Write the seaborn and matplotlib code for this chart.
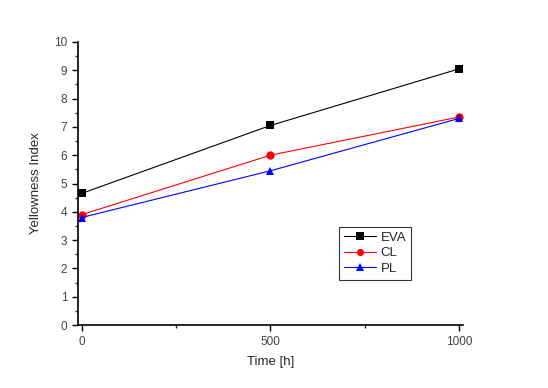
import pandas as pd
import matplotlib.pyplot as plt
import seaborn as sns
from matplotlib.ticker import MultipleLocator

time_h = [0, 500, 1000]
eva = [4.65, 7.05, 9.05]
cl = [3.9, 6.0, 7.35]
pl = [3.8, 5.45, 7.3]

df = pd.DataFrame({
    "time": time_h * 3,
    "yi": eva + cl + pl,
    "sample": ["EVA"] * 3 + ["CL"] * 3 + ["PL"] * 3,
})

sns.set_style("ticks")
plt.rcParams["font.family"] = ["Liberation Sans", "DejaVu Sans"]

fig = plt.figure(figsize=(5.48, 3.88), dpi=100)
ax = fig.add_axes([0.142, 0.162, 0.703, 0.730])

colors = {"EVA": "black", "CL": "red", "PL": "blue"}
markers = {"EVA": "s", "CL": "o", "PL": "^"}
for name in ["EVA", "CL", "PL"]:
    d = df[df["sample"] == name]
    sns.lineplot(data=d, x="time", y="yi", ax=ax, color=colors[name],
                 marker=markers[name], markersize=6, markeredgewidth=0,
                 linewidth=0.8, label=name)

ax.set_xlim(-10, 1010)
ax.set_ylim(0, 10)
ax.xaxis.set_major_locator(MultipleLocator(500))
ax.xaxis.set_minor_locator(MultipleLocator(250))
ax.yaxis.set_major_locator(MultipleLocator(1))
ax.yaxis.set_minor_locator(MultipleLocator(0.5))
ax.tick_params(which="major", length=4, width=1, labelsize=8.5, colors="black", labelcolor="#444444")
ax.tick_params(which="minor", length=2.5, width=1)
sns.despine(ax=ax)
for s in ["left", "bottom"]:
    ax.spines[s].set_linewidth(1.2)
    ax.spines[s].set_color("black")

ax.set_xlabel("Time [h]", fontsize=9.5, labelpad=6)
ax.set_ylabel("Yellowness Index", fontsize=9.5, labelpad=9)

leg = ax.legend(loc="upper left", bbox_to_anchor=(0.607, 0.432), bbox_transform=fig.transFigure,
                frameon=True, fancybox=False, fontsize=9.5, handlelength=2.4, markerscale=0.85,
                borderpad=0.35, labelspacing=0.25, handletextpad=0.4)
leg.get_frame().set_edgecolor("black")
leg.get_frame().set_linewidth(0.8)

fig.savefig("out.png", dpi=100)
